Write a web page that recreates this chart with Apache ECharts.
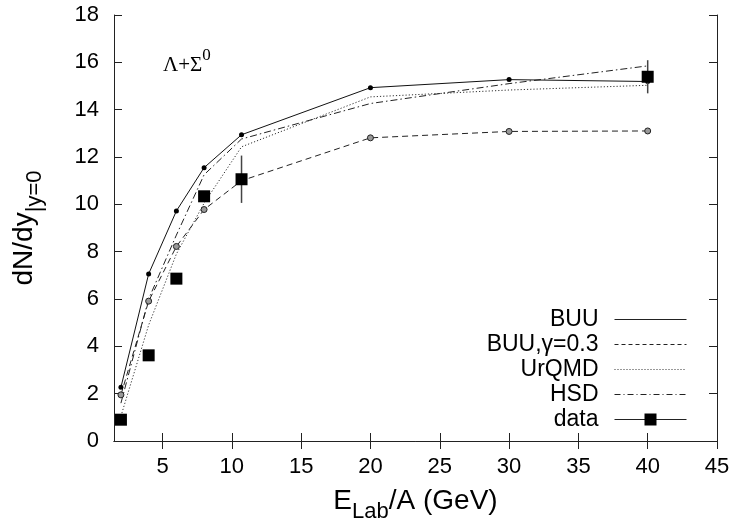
<!DOCTYPE html>
<html>
<head>
<meta charset="utf-8">
<script src="https://cdn.jsdelivr.net/npm/echarts/dist/echarts.min.js"></script>
<style>
html,body{margin:0;padding:0;background:#fff;}
#chart{width:736px;height:524px;}
</style>
</head>
<body>
<div id="chart"></div>
<script>
// ---- data ----
const energies = [2, 4, 6, 8, 10.7, 20, 30, 40];
const buu      = [2.27, 7.06, 9.72, 11.55, 12.94, 14.93, 15.27, 15.19];
const buuGamma = [1.95, 5.91, 8.22, 9.78, 11.0, 12.81, 13.08, 13.1];
const urqmd    = [1.05, 4.9, 7.9, 10.05, 12.43, 14.54, 14.83, 15.03];
const hsd      = [1.6, 6.0, 8.7, 11.25, 12.76, 14.26, 15.1, 15.85];

const dataE    = [2, 4, 6, 8, 10.7, 40];
const dataY    = [0.9, 3.62, 6.86, 10.34, 11.06, 15.39];
const dataErr  = [0, 0, 0, 0, 1.0, 0.7];

const xTicks = [5, 10, 15, 20, 25, 30, 35, 40, 45];
const seriesNames = ['BUU', 'BUU,\u03b3=0.3', 'UrQMD', 'HSD', 'data'];

const pair = (xs, ys) => xs.map((x, i) => [x, ys[i]]);
const SANS = 'Liberation Sans, Arial, Helvetica, sans-serif';
const SERIF = 'Liberation Serif, Times New Roman, serif';
const AX = '#222';

const chart = echarts.init(document.getElementById('chart'), null, {renderer: 'canvas'});

const baseX = {
  type: 'value', min: 1.5, max: 45,
  axisLine: {show: true, lineStyle: {color: AX, width: 1}},
  splitLine: {show: false},
  axisTick: {show: true, inside: true, length: 8, lineStyle: {color: AX}, customValues: xTicks},
};
const baseY = {
  type: 'value', min: 0, max: 18, interval: 2,
  axisLine: {show: true, lineStyle: {color: AX, width: 1}},
  splitLine: {show: false},
  axisTick: {show: true, inside: true, length: 8, lineStyle: {color: AX}},
};

const titleRich = {
  m: {fontSize: 28, lineHeight: 28, verticalAlign: 'top', fontFamily: SANS, color: '#000'},
  s: {fontSize: 22, lineHeight: 22, verticalAlign: 'top', padding: [14, 0, 0, 0], fontFamily: SANS, color: '#000'}
};

const option = {
  animation: false,
  backgroundColor: '#fff',
  grid: {left: 114, right: 19, top: 15, bottom: 83, containLabel: false, outerBoundsMode: 'none'},
  xAxis: [
    Object.assign({}, baseX, {
      position: 'bottom',
      axisLabel: {show: true, customValues: xTicks, fontSize: 22, fontFamily: SANS, color: '#000', margin: 15},
      name: '{m|E}{s|Lab}{m|/A (GeV)}',
      nameLocation: 'middle', nameGap: 46,
      nameTextStyle: {rich: titleRich}
    }),
    Object.assign({}, baseX, {position: 'top', axisLabel: {show: false}})
  ],
  yAxis: [
    Object.assign({}, baseY, {
      position: 'left',
      axisLabel: {show: true, fontSize: 22, fontFamily: SANS, color: '#000', margin: 15},
      name: '{m|dN/dy}{s||y=0}',
      nameLocation: 'middle', nameGap: 76, nameRotate: 90,
      nameTextStyle: {rich: titleRich}
    }),
    Object.assign({}, baseY, {position: 'right', axisLabel: {show: false}})
  ],
  legend: {
    orient: 'vertical', align: 'right',
    right: 49, top: 307, padding: 0,
    itemWidth: 72, itemHeight: 15, itemGap: 0,
    selectedMode: false,
    textStyle: {fontSize: 23, fontFamily: SANS, color: '#000', lineHeight: 25, padding: [0, 11, 0, 0]},
    data: [
      {name: seriesNames[0], itemStyle: {opacity: 0}, lineStyle: {color: '#222', width: 1, type: 'solid'}},
      {name: seriesNames[1], itemStyle: {opacity: 0}, lineStyle: {color: '#222', width: 1, type: [4, 3]}},
      {name: seriesNames[2], itemStyle: {opacity: 0}, lineStyle: {color: '#333', width: 1, type: [1, 2]}},
      {name: seriesNames[3], itemStyle: {opacity: 0}, lineStyle: {color: '#222', width: 1, type: [6, 3, 1, 3]}},
      {name: seriesNames[4], itemStyle: {color: '#000', opacity: 1}, lineStyle: {color: '#222', width: 1, type: 'solid', opacity: 1}}
    ]
  },
  graphic: [{
    type: 'text', left: 163, top: 47,
    style: {
      text: '{m|\u039b+\u03a3}{s|0}',
      rich: {
        m: {fontSize: 21, lineHeight: 21, verticalAlign: 'top', padding: [8, 0, 0, 0], fontFamily: SERIF, fill: '#000', color: '#000'},
        s: {fontSize: 17, lineHeight: 17, verticalAlign: 'top', fontFamily: SERIF, fill: '#000', color: '#000'}
      }
    }
  }],
  series: [
    {
      name: seriesNames[0], type: 'line', data: pair(energies, buu),
      symbol: 'circle', symbolSize: 5, showSymbol: true,
      itemStyle: {color: '#000'},
      lineStyle: {color: '#111', width: 1, type: 'solid'}, z: 5
    },
    {
      name: seriesNames[1], type: 'line', data: pair(energies, buuGamma),
      symbol: 'circle', symbolSize: 6, showSymbol: true,
      itemStyle: {color: '#999', borderColor: '#222', borderWidth: 1},
      lineStyle: {color: '#222', width: 1, type: [6, 4]}, z: 4
    },
    {
      name: seriesNames[2], type: 'line', data: pair(energies, urqmd),
      symbol: 'none', showSymbol: false,
      lineStyle: {color: '#333', width: 1, type: [1.2, 2]}, z: 3
    },
    {
      name: seriesNames[3], type: 'line', data: pair(energies, hsd),
      symbol: 'none', showSymbol: false,
      lineStyle: {color: '#222', width: 1, type: [7, 3, 1.5, 3]}, z: 3
    },
    {
      name: 'errors', type: 'custom',
      data: dataE.map((x, i) => [x, dataY[i], dataErr[i]]),
      encode: {x: 0, y: 1},
      renderItem: function (params, api) {
        const x = api.value(0), y = api.value(1), e = api.value(2);
        if (!e) return null;
        const p1 = api.coord([x, y + e]);
        const p2 = api.coord([x, y - e]);
        return {type: 'line', shape: {x1: p1[0], y1: p1[1], x2: p2[0], y2: p2[1]},
                style: {stroke: '#444', lineWidth: 1.5}};
      },
      z: 6, silent: true
    },
    {
      name: seriesNames[4], type: 'line', data: pair(dataE, dataY),
      symbol: 'rect', symbolSize: 12, showSymbol: true,
      itemStyle: {color: '#000'},
      lineStyle: {opacity: 0, width: 0}, z: 7
    }
  ]
};
chart.setOption(option);
</script>
</body>
</html>
